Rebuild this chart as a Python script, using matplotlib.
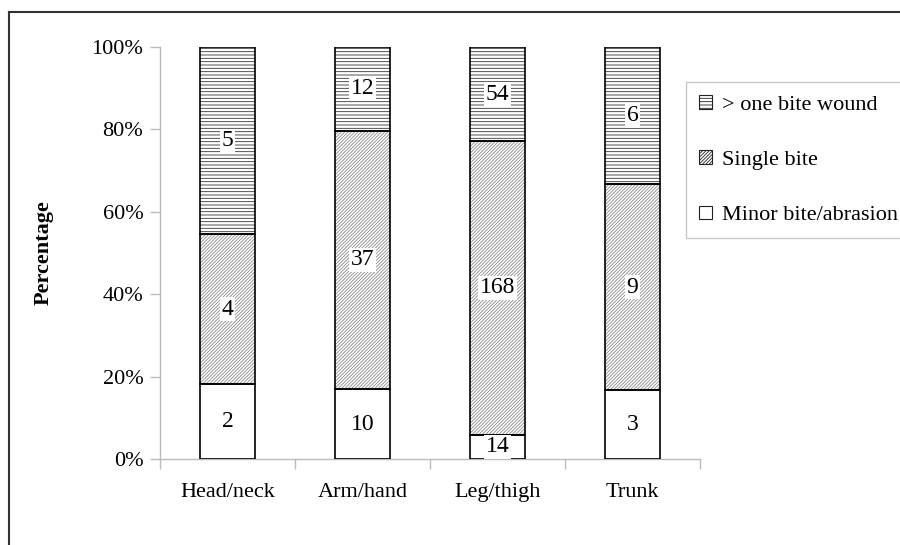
import matplotlib
matplotlib.use("Agg")
import matplotlib.pyplot as plt
from matplotlib.lines import Line2D
from matplotlib.patches import Patch
from matplotlib.ticker import FuncFormatter
import numpy as np

categories = ["Head/neck", "Arm/hand", "Leg/thigh", "Trunk"]
minor = [2, 10, 14, 3]
single = [4, 37, 168, 9]
multiple = [5, 12, 54, 6]
series_names = ["Minor bite/abrasion", "Single bite", "> one bite wound"]
yticks = [0, 20, 40, 60, 80, 100]

plt.rcParams['font.family'] = ['Liberation Serif', 'DejaVu Serif']
plt.rcParams['hatch.linewidth'] = 0.6

counts = np.array([minor, single, multiple], dtype=float)
totals = counts.sum(axis=0)
pct = counts / totals * 100

fig = plt.figure(figsize=(9, 5.45), dpi=100)
ax = fig.add_axes([160/900, 1-459/545, 540/900, 412/545])

x = np.arange(len(categories))
hatches = [None, '//////////', '-----']
hatch_colors = ['white', '#8a8a8a', '#333333']
bottom = np.zeros(len(categories))
handles = []
for i in range(3):
    ax.bar(x, pct[i], bottom=bottom, width=0.41, color='white',
           edgecolor=hatch_colors[i], linewidth=0, hatch=hatches[i], zorder=2)
    ax.bar(x, pct[i], bottom=bottom, width=0.41, facecolor='none',
           edgecolor='black', linewidth=1.2, zorder=3)
    handles.append(Patch(facecolor='white', edgecolor='#222222', linewidth=0.8,
                         hatch=hatches[i]))
    for j in range(len(categories)):
        ax.text(x[j], bottom[j] + pct[i][j]/2, f"{int(counts[i][j])}",
                ha='center', va='center', fontsize=17, zorder=4,
                bbox=dict(facecolor='white', edgecolor='none', pad=1.0))
    bottom += pct[i]

ax.set_xlim(-0.5, len(categories) - 0.5)
ax.set_ylim(0, 100)
ax.set_yticks(yticks)
ax.yaxis.set_major_formatter(FuncFormatter(lambda v, p: f"{int(v)}%"))
ax.set_xticks(x)
ax.set_xticklabels(categories)
ax.set_xticks(np.arange(-0.5, len(categories)), minor=True)
ax.tick_params(axis='x', which='major', length=0, pad=17, labelsize=16)
ax.tick_params(axis='x', which='minor', length=7, color='#bbbbbb', width=1)
ax.tick_params(axis='y', length=7, color='#bbbbbb', width=1, labelsize=16, pad=5)
for s in ['top', 'right']:
    ax.spines[s].set_visible(False)
for s in ['left', 'bottom']:
    ax.spines[s].set_color('#bbbbbb')
    ax.spines[s].set_linewidth(1)
ax.set_ylabel("Percentage", fontsize=16, fontweight='bold', labelpad=27)

leg = fig.legend(handles[::-1], series_names[::-1],
                 loc='upper left', bbox_to_anchor=(686/900, 1-82/545),
                 frameon=True, fancybox=False, fontsize=16,
                 handlelength=0.55, handleheight=0.55, handletextpad=0.45,
                 labelspacing=1.6, borderpad=0.6, borderaxespad=0)
leg.get_frame().set_edgecolor('#bbbbbb')
leg.get_frame().set_linewidth(1)

fig.add_artist(Line2D([9/900, 1.0], [1-12/545, 1-12/545], color='#333333', lw=1.5,
                      transform=fig.transFigure))
fig.add_artist(Line2D([9/900, 9/900], [0, 1-12/545], color='#333333', lw=1.5,
                      transform=fig.transFigure))

fig.savefig("out.png", dpi=100)
